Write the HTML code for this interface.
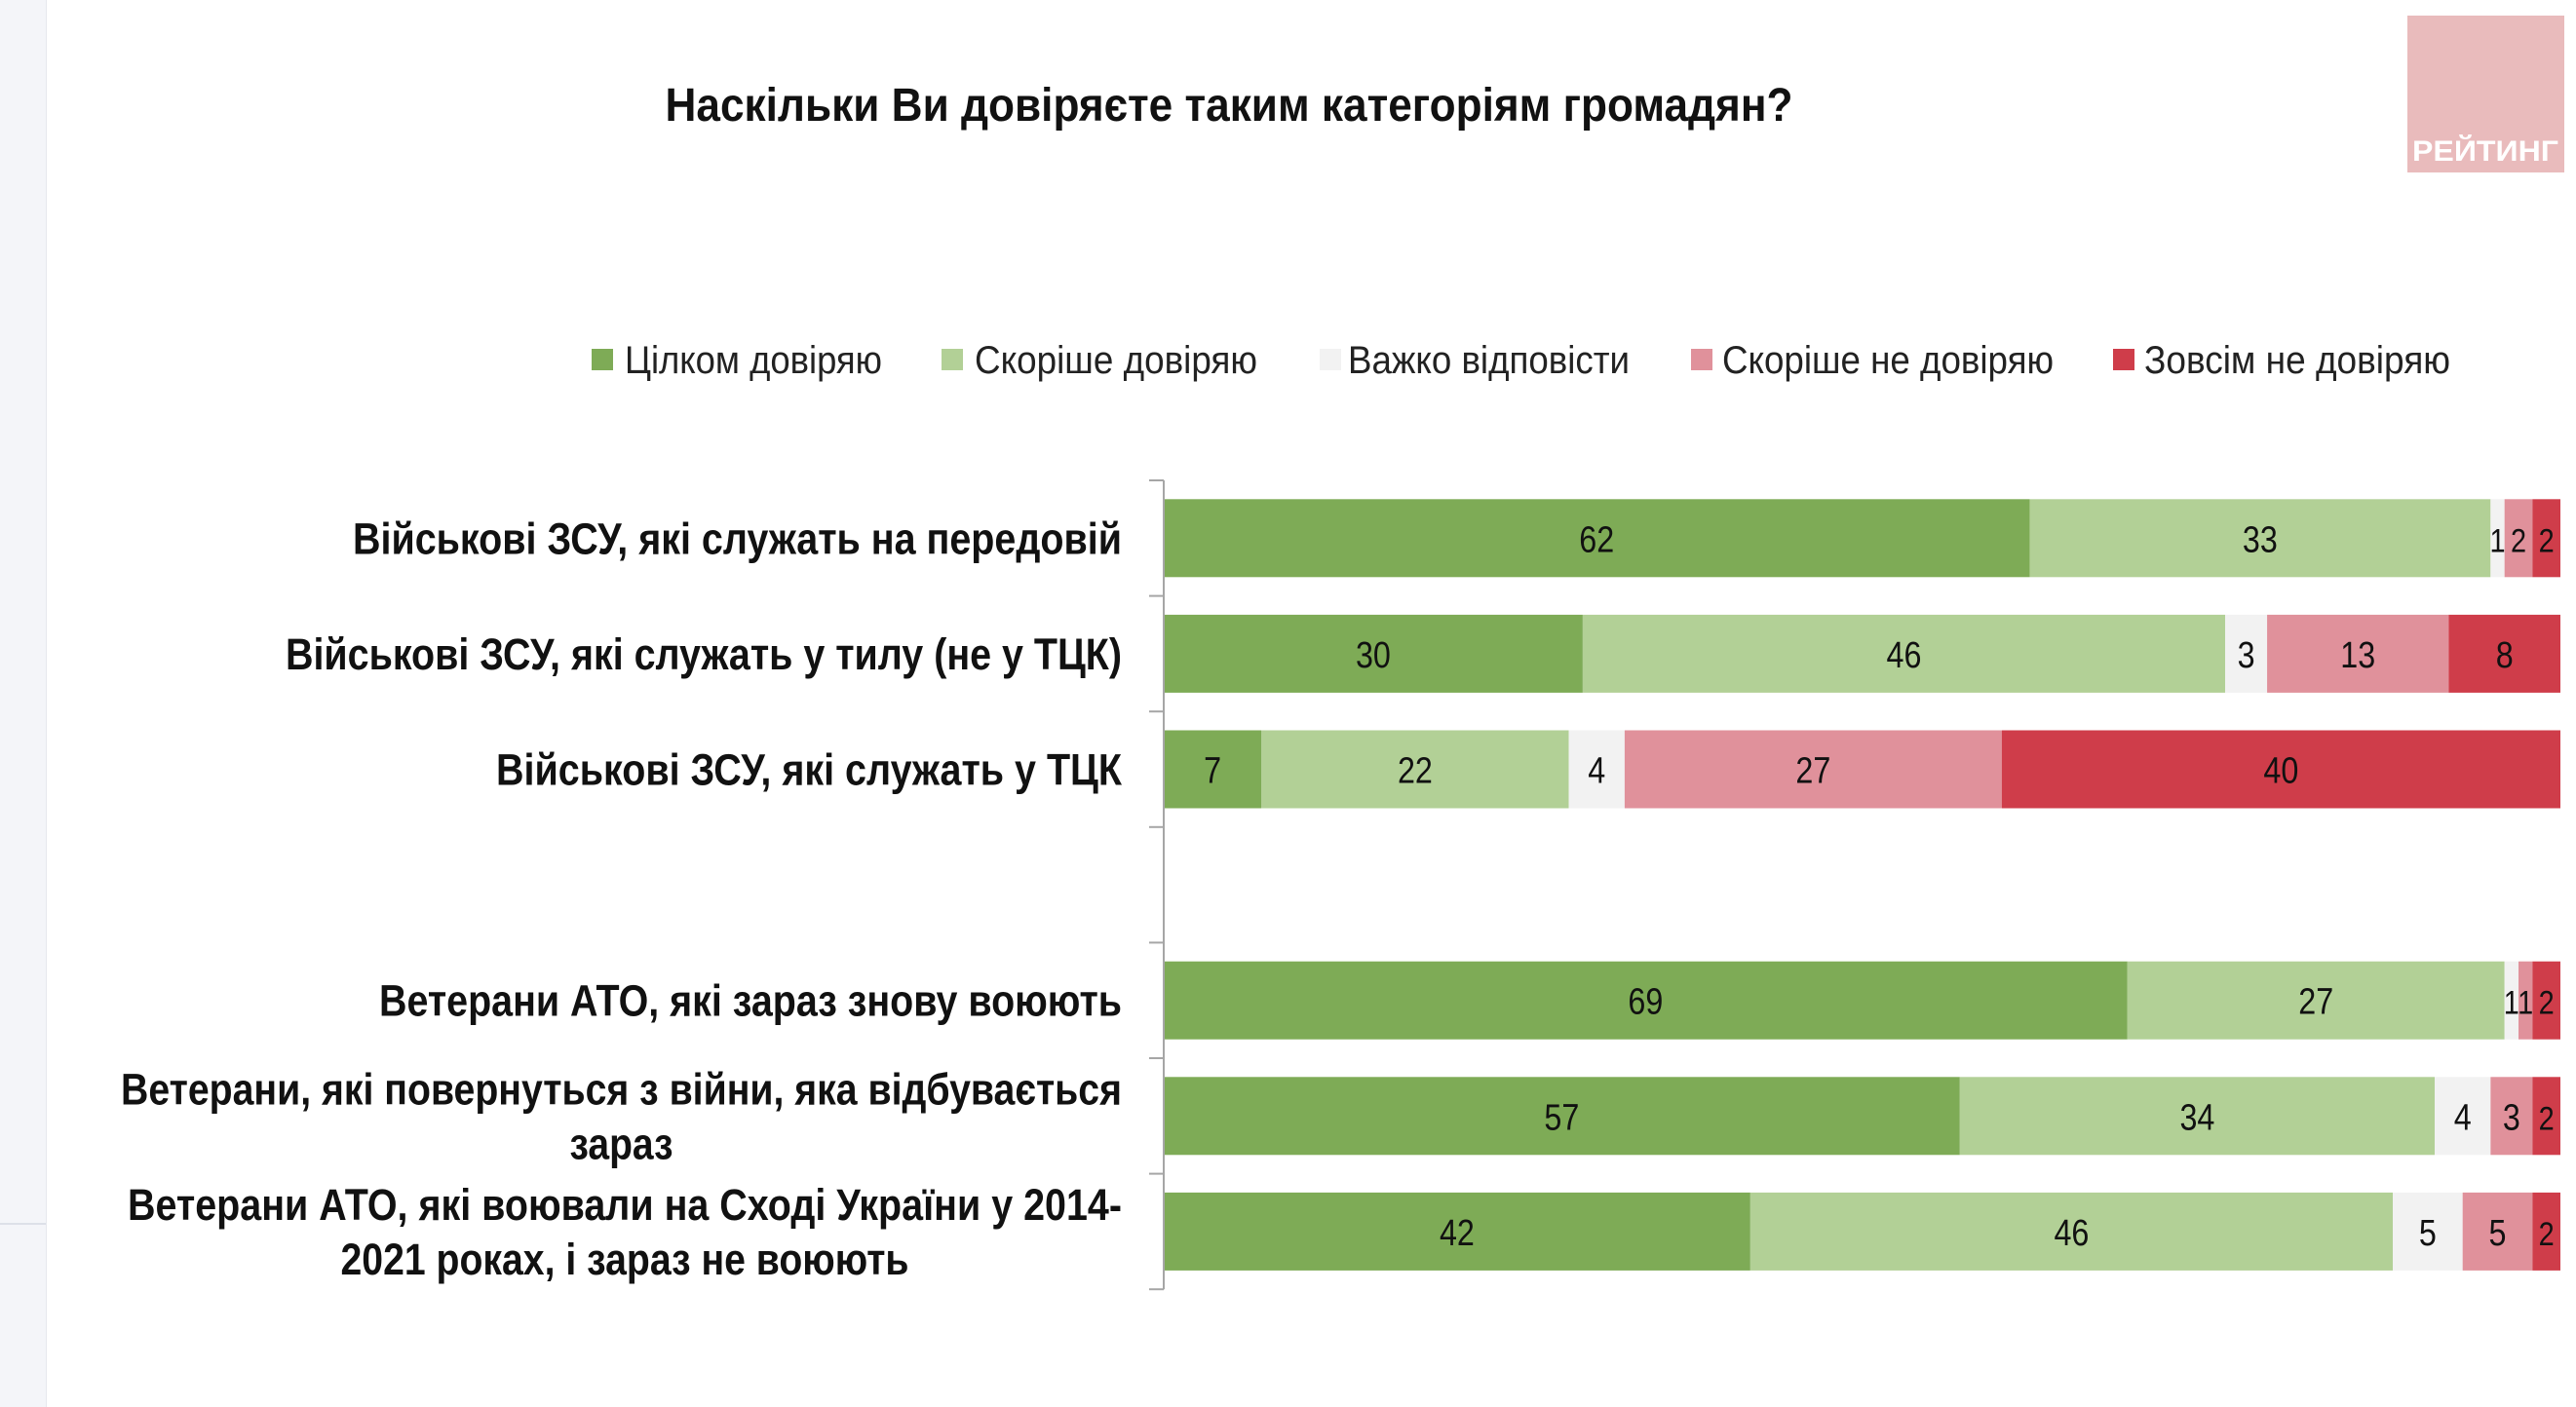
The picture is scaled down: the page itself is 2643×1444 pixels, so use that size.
<!DOCTYPE html>
<html><head><meta charset="utf-8"><style>
html,body{margin:0;padding:0;background:#fff;}
svg{display:block;font-family:"Liberation Sans",sans-serif;}
</style></head><body>
<svg id="chart" width="2643" height="1444" viewBox="0 0 2643 1444" xmlns="http://www.w3.org/2000/svg">
<rect x="0" y="0" width="47" height="1444" fill="#f4f5f9"/>
<line x1="47.5" y1="0" x2="47.5" y2="1444" stroke="#e6e8ee" stroke-width="1"/>
<line x1="0" y1="1256" x2="47" y2="1256" stroke="#dde0e8" stroke-width="2"/>
<text x="1261" y="124" text-anchor="middle" font-size="48" font-weight="bold" fill="#111" textLength="1157" lengthAdjust="spacingAndGlyphs">Наскільки Ви довіряєте таким категоріям громадян?</text>
<g>
<rect x="2470" y="16" width="161" height="161" fill="#e9bbbc"/>
<text x="2550" y="165" text-anchor="middle" font-size="30" font-weight="bold" fill="#fff" textLength="150" lengthAdjust="spacingAndGlyphs">РЕЙТИНГ</text>
</g>
<g id="legend"></g>
<g id="labels"></g>
<g id="bars"></g>
<g id="axis"></g>
</svg>
<script>
const categories = [
  ["Військові ЗСУ, які служать на передовій"],
  ["Військові ЗСУ, які служать у тилу (не у ТЦК)"],
  ["Військові ЗСУ, які служать у ТЦК"],
  null,
  ["Ветерани АТО, які зараз знову воюють"],
  ["Ветерани, які повернуться з війни, яка відбувається", "зараз"],
  ["Ветерани АТО, які воювали на Сході України у 2014-", "2021 роках, і зараз не воюють"]
];
const seriesNames = ["Цілком довіряю","Скоріше довіряю","Важко відповісти","Скоріше не довіряю","Зовсім не довіряю"];
const fullyTrust   = [62,30,7,null,69,57,42];
const ratherTrust  = [33,46,22,null,27,34,46];
const hardToSay    = [1,3,4,null,1,4,5];
const ratherNot    = [2,13,27,null,1,3,5];
const notAtAll     = [2,8,40,null,2,2,2];
const series = [fullyTrust, ratherTrust, hardToSay, ratherNot, notAtAll];

const NS = "http://www.w3.org/2000/svg";
const colors = ["#7eab56","#b2d096","#f2f2f2","#e0919b","#cf3d4a"];
const X0 = 1194, X1 = 2627, Y0 = 493, band = 118.6, barH = 80;
const xScale = v => X0 + v/100*(X1-X0);
const yCenter = i => Y0 + (i+0.5)*band;
function mk(tag, attrs, parent){const e=document.createElementNS(NS,tag);for(const k in attrs)e.setAttribute(k,attrs[k]);parent.appendChild(e);return e;}

// legend
const legend = document.getElementById('legend');
const legSq = [607,966,1354,1735,2168], legTx=[641,1000,1383,1767,2200], legW=[264,290,289,340,314];
seriesNames.forEach((n,i)=>{
  const g = mk('g',{},legend);
  
  
  mk('rect',{x:legSq[i],y:358,width:22,height:22,fill:colors[i]},g);
  const t = mk('text',{x:legTx[i],y:383,'font-size':40,fill:'#222',textLength:legW[i],lengthAdjust:'spacingAndGlyphs'},g);
  t.textContent = n;
});

// labels
const labels = document.getElementById('labels');
const lblW = [[789],[858],[642],null,[762],[1027,106],[1020,583]];
categories.forEach((c,i)=>{
  if(!c) return;
  const cy = yCenter(i);
  if(c.length===1){
    const t = mk('text',{x:1151,y:cy+16,'text-anchor':'end','font-size':45,'font-weight':'bold',fill:'#111',textLength:lblW[i][0],lengthAdjust:'spacingAndGlyphs'},labels);
    
    
    t.textContent=c[0];
  } else {
    const t1 = mk('text',{x:1151,y:cy-12,'text-anchor':'end','font-size':45,'font-weight':'bold',fill:'#111',textLength:lblW[i][0],lengthAdjust:'spacingAndGlyphs'},labels);
    
    
    t1.textContent=c[0];
    const cx = 1151 - lblW[i][0]/2;
    const t2 = mk('text',{x:cx,y:cy+44,'text-anchor':'middle','font-size':45,'font-weight':'bold',fill:'#111',textLength:lblW[i][1],lengthAdjust:'spacingAndGlyphs'},labels);
    
    
    t2.textContent=c[1];
  }
});

// bars
const bars = document.getElementById('bars');
categories.forEach((c,i)=>{
  if(!c) return;
  let cum=0;
  const cy = yCenter(i);
  series.forEach((s,k)=>{
    const v = s[i];
    const x = xScale(cum), w = xScale(cum+v)-x;
    const r = mk('rect',{x:x,y:cy-barH/2,width:w,height:barH,fill:colors[k]},bars);
    
    
    const t = mk('text',{x:x+w/2,y:cy+14,'text-anchor':'middle','font-size':38,fill:'#111'},bars);
    if(v<3) t.setAttribute('font-size',34);
    
    
    t.setAttribute('transform',`translate(${(x+w/2)*0.15},0) scale(0.85,1)`);
    t.textContent=v;
    cum+=v;
  });
});

// axis
const axis = document.getElementById('axis');
mk('line',{x1:X0,y1:Y0,x2:X0,y2:Y0+7*band,stroke:'#a6a6a6','stroke-width':2},axis);
for(let i=0;i<=7;i++){
  const tk = mk('line',{x1:X0-15,y1:Y0+i*band,x2:X0,y2:Y0+i*band,stroke:'#a6a6a6','stroke-width':2},axis);
  
  
}
</script>
</body></html>
